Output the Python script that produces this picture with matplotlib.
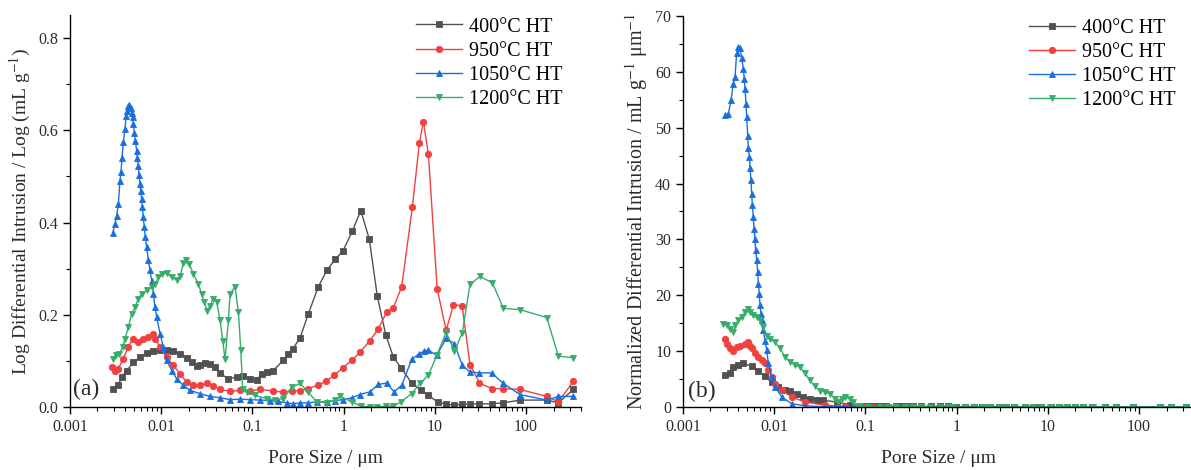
import matplotlib
matplotlib.use('Agg')
import matplotlib.pyplot as plt
from matplotlib.ticker import LogLocator, NullFormatter, MultipleLocator

plt.rcParams['font.family'] = ['Liberation Serif', 'DejaVu Serif']
plt.rcParams['mathtext.fontset'] = 'stix'

# ---------------- data ----------------
labels = ['400°C HT', '950°C HT', '1050°C HT', '1200°C HT']
colors = ['#515151', '#F14040', '#1A6FDF', '#37AD6B']
markers = ['s', 'o', '^', 'v']
msizes = [4.2, 4.6, 5.0, 5.0]

xticks = [0.001, 0.01, 0.1, 1, 10, 100]
xticklabels = ['0.001', '0.01', '0.1', '1', '10', '100']

# (a) log differential intrusion, mL/g
a400_x = [0.00299, 0.00339, 0.00369, 0.00418, 0.00495, 0.00586, 0.00693, 0.0082, 0.0097, 0.01148,
          0.01358, 0.0161, 0.019, 0.0216, 0.0245, 0.0266, 0.0302, 0.0343, 0.0389, 0.0442,
          0.0545, 0.0673, 0.0795, 0.0941, 0.111, 0.126, 0.144, 0.169, 0.218, 0.248,
          0.277, 0.333, 0.41, 0.528, 0.653, 0.805, 0.98, 1.25, 1.54, 1.91,
          2.34, 2.89, 3.51, 4.26, 5.57, 7.06, 8.5, 10.7, 13.3, 16.4,
          20.0, 24.3, 30.8, 42.0, 56.4, 85.9, 168.6, 226, 330]
a400_y = [0.040, 0.047, 0.065, 0.079, 0.097, 0.108, 0.117, 0.121, 0.124, 0.124,
          0.121, 0.116, 0.107, 0.097, 0.088, 0.090, 0.095, 0.094, 0.087, 0.074,
          0.060, 0.066, 0.068, 0.060, 0.059, 0.071, 0.076, 0.079, 0.101, 0.116,
          0.126, 0.150, 0.202, 0.261, 0.296, 0.320, 0.338, 0.382, 0.426, 0.364,
          0.240, 0.157, 0.108, 0.085, 0.052, 0.036, 0.025, 0.011, 0.006, 0.004,
          0.006, 0.006, 0.007, 0.007, 0.009, 0.015, 0.015, 0.009, 0.038]

a950_x = [0.00287, 0.00311, 0.00339, 0.00384, 0.00436, 0.00495, 0.00561, 0.00637, 0.00723, 0.00806,
          0.00855, 0.0097, 0.01148, 0.01358, 0.0161, 0.019, 0.0225, 0.0266, 0.0315, 0.0373,
          0.0442, 0.0568, 0.0731, 0.0941, 0.121, 0.169, 0.218, 0.269, 0.333, 0.41,
          0.52, 0.641, 0.791, 0.977, 1.23, 1.51, 1.95, 2.40, 2.97, 3.51,
          4.33, 5.67, 6.76, 7.48, 8.5, 10.6, 13.3, 16.0, 19.9, 24.3,
          30.8, 42.0, 56.4, 85.9, 168.6, 226, 330]
a950_y = [0.087, 0.078, 0.083, 0.105, 0.130, 0.148, 0.141, 0.148, 0.152, 0.159,
          0.148, 0.130, 0.108, 0.090, 0.072, 0.054, 0.047, 0.047, 0.052, 0.045,
          0.038, 0.034, 0.036, 0.035, 0.038, 0.035, 0.032, 0.035, 0.035, 0.040,
          0.047, 0.056, 0.069, 0.085, 0.101, 0.119, 0.144, 0.170, 0.206, 0.215,
          0.261, 0.434, 0.572, 0.619, 0.548, 0.256, 0.166, 0.222, 0.219, 0.092,
          0.052, 0.040, 0.040, 0.038, 0.023, 0.011, 0.056]

a1050_x = [0.00294, 0.00311, 0.00325, 0.00339, 0.00353, 0.00362, 0.00372, 0.00384, 0.00401, 0.00411,
           0.00418, 0.00436, 0.00447, 0.00462, 0.00474, 0.00487, 0.00495, 0.00508, 0.0052, 0.00538,
           0.00547, 0.00561, 0.00571, 0.00586, 0.00595, 0.00611, 0.00621, 0.00637, 0.00653, 0.0067,
           0.00693, 0.00723, 0.00754, 0.00787, 0.0082, 0.00855, 0.00892, 0.0097, 0.01055, 0.01148,
           0.01303, 0.01479, 0.0175, 0.0207, 0.0266, 0.0343, 0.0442, 0.0568, 0.0731, 0.0941,
           0.121, 0.156, 0.19, 0.238, 0.281, 0.333, 0.41, 0.507, 0.653, 0.805,
           0.993, 1.23, 1.51, 1.95, 2.40, 2.97, 3.57, 4.33, 5.57, 6.76,
           7.62, 8.5, 10.5, 13.3, 16.4, 20.0, 24.3, 30.8, 42.0, 56.4,
           85.9, 168.6, 226, 330]
a1050_y = [0.377, 0.397, 0.415, 0.440, 0.491, 0.509, 0.541, 0.574, 0.603, 0.631,
           0.642, 0.653, 0.655, 0.649, 0.638, 0.628, 0.613, 0.595, 0.577, 0.556,
           0.541, 0.523, 0.502, 0.484, 0.469, 0.451, 0.433, 0.411, 0.390, 0.368,
           0.346, 0.318, 0.296, 0.274, 0.245, 0.217, 0.195, 0.159, 0.130, 0.101,
           0.079, 0.061, 0.047, 0.036, 0.029, 0.023, 0.020, 0.016, 0.017, 0.016,
           0.015, 0.014, 0.012, 0.009, 0.007, 0.009, 0.009, 0.011, 0.011, 0.014,
           0.016, 0.020, 0.027, 0.033, 0.049, 0.052, 0.033, 0.047, 0.103, 0.116,
           0.121, 0.123, 0.112, 0.149, 0.137, 0.090, 0.076, 0.074, 0.074, 0.051,
           0.027, 0.015, 0.023, 0.023]

a1200_x = [0.00294, 0.00319, 0.00346, 0.00378, 0.00401, 0.00436, 0.00474, 0.00516, 0.00561, 0.00611,
           0.00693, 0.00787, 0.00855, 0.0093, 0.0101, 0.01148, 0.01303, 0.01479, 0.0161, 0.0175,
           0.0187, 0.0203, 0.0225, 0.0255, 0.0278, 0.0295, 0.0321, 0.0343, 0.0373, 0.0406,
           0.0442, 0.0472, 0.0501, 0.0545, 0.0568, 0.0645, 0.0702, 0.0745, 0.0783, 0.0866,
           0.107, 0.144, 0.177, 0.218, 0.269, 0.333, 0.41, 0.507, 0.653, 0.805,
           0.914, 1.23, 1.54, 1.95, 2.34, 2.89, 3.51, 4.26, 5.57, 6.88,
           8.5, 10.5, 13.3, 16.4, 20.0, 24.3, 31.3, 42.8, 56.4, 85.9,
           168.6, 226, 330]
a1200_y = [0.105, 0.112, 0.114, 0.130, 0.148, 0.173, 0.202, 0.216, 0.235, 0.245,
           0.253, 0.260, 0.266, 0.281, 0.289, 0.290, 0.281, 0.276, 0.283, 0.312,
           0.318, 0.310, 0.289, 0.267, 0.245, 0.227, 0.209, 0.220, 0.235, 0.227,
           0.188, 0.144, 0.103, 0.188, 0.245, 0.261, 0.206, 0.123, 0.040, 0.032,
           0.025, 0.018, 0.016, 0.018, 0.043, 0.051, 0.032, 0.011, 0.009, 0.015,
           0.023, 0.011, 0.002, 0.000, 0.000, 0.002, 0.002, 0.011, 0.029, 0.051,
           0.069, 0.112, 0.162, 0.121, 0.161, 0.266, 0.283, 0.269, 0.214, 0.211,
           0.194, 0.110, 0.107]

# (b) normalized differential intrusion, mL/g/um
b400_x = [0.00289, 0.00325, 0.00356, 0.00404, 0.00458, 0.00566, 0.0067, 0.00793, 0.00938, 0.0111,
          0.0131, 0.0149, 0.0177, 0.0209, 0.0247, 0.0292, 0.0346, 0.0484, 0.0678, 0.0949,
          0.111, 0.126, 0.144, 0.169, 0.218, 0.248, 0.277, 0.333, 0.41, 0.528,
          0.653, 0.805, 0.98, 1.25, 1.54, 1.91, 2.34, 2.89, 3.51, 4.26,
          5.57, 7.06, 8.5, 10.7, 13.3, 16.4, 20.0, 24.3, 30.8, 42.0,
          56.4, 85.9, 168.6, 226, 330]
b400_y = [5.7, 6.0, 7.2, 7.6, 7.8, 7.3, 6.5, 5.5, 4.4, 3.5,
          3.0, 2.8, 2.4, 1.8, 1.5, 1.3, 1.2, 0.9, 0.4, 0.15,
          0.12, 0.12, 0.11, 0.10, 0.10, 0.10, 0.10, 0.10, 0.11, 0.11,
          0.10, 0.09, 0.08, 0.07, 0.06, 0.04, 0.02, 0.01, 0.01, 0.01,
          0.0, 0.0, 0.0, 0.0, 0.0, 0.0, 0.0, 0.0, 0.0, 0.0,
          0.0, 0.0, 0.0, 0.0, 0.0]

b950_x = [0.00289, 0.00301, 0.00325, 0.00356, 0.00387, 0.00422, 0.00478, 0.0052, 0.00543, 0.00566,
          0.00615, 0.0067, 0.0073, 0.00793, 0.00862, 0.00938, 0.0102, 0.0121, 0.0155, 0.0218,
          0.036, 0.06, 0.0941, 0.121, 0.169, 0.218, 0.269, 0.333, 0.41, 0.52,
          0.641, 0.791, 0.977, 1.23, 1.51, 1.95, 2.40, 2.97, 3.51, 4.33,
          5.67, 6.76, 7.48, 8.5, 10.6, 13.3, 16.0, 19.9, 24.3, 30.8,
          42.0, 56.4, 85.9, 168.6, 226, 330]
b950_y = [12.2, 11.3, 10.5, 10.1, 10.7, 11.0, 11.3, 11.6, 11.0, 10.5,
          9.6, 9.0, 8.4, 7.8, 6.6, 5.4, 4.2, 3.0, 1.8, 0.9,
          0.3, 0.1, 0.08, 0.07, 0.05, 0.04, 0.03, 0.03, 0.03, 0.02,
          0.02, 0.02, 0.02, 0.02, 0.02, 0.02, 0.02, 0.02, 0.02, 0.02,
          0.03, 0.03, 0.03, 0.03, 0.01, 0.01, 0.01, 0.01, 0.0, 0.0,
          0.0, 0.0, 0.0, 0.0, 0.0, 0.0]

b1050_x = [0.00289, 0.00314, 0.00336, 0.00356, 0.00372, 0.00387, 0.00404, 0.00422, 0.0044, 0.00459,
           0.0047, 0.00478, 0.00491, 0.00499, 0.00512, 0.0052, 0.00534, 0.00543, 0.00557, 0.00566,
           0.00576, 0.0059, 0.00601, 0.00615, 0.00626, 0.00643, 0.00659, 0.0067, 0.00687, 0.00698,
           0.00716, 0.00735, 0.0076, 0.00793, 0.00827, 0.00862, 0.00938, 0.0102, 0.0121, 0.0155,
           0.0218, 0.036, 0.0568, 0.0941, 0.121, 0.156, 0.19, 0.238, 0.281, 0.333,
           0.41, 0.507, 0.653, 0.805, 0.993, 1.23, 1.51, 1.95, 2.40, 2.97,
           3.57, 4.33, 5.57, 6.76, 7.62, 8.5, 10.5, 13.3, 16.4, 20.0,
           24.3, 30.8, 42.0, 56.4, 85.9, 168.6, 226, 330]
b1050_y = [52.2, 52.5, 54.9, 57.9, 59.1, 63.3, 64.4, 64.2, 62.4, 60.6,
           58.8, 57.0, 54.3, 51.9, 48.6, 46.3, 44.8, 42.7, 40.6, 38.2,
           36.1, 34.0, 31.9, 30.1, 28.1, 26.3, 24.2, 22.1, 20.3, 18.2,
           16.7, 15.5, 13.7, 11.9, 10.2, 7.8, 5.4, 3.6, 1.8, 0.6,
           0.2, 0.05, 0.03, 0.02, 0.01, 0.01, 0.01, 0.01, 0.0, 0.0,
           0.0, 0.0, 0.0, 0.0, 0.0, 0.0, 0.0, 0.0, 0.0, 0.0,
           0.0, 0.0, 0.01, 0.01, 0.01, 0.01, 0.01, 0.01, 0.01, 0.0,
           0.0, 0.0, 0.0, 0.0, 0.0, 0.0, 0.0, 0.0]

b1200_x = [0.00277, 0.00301, 0.00325, 0.00356, 0.00372, 0.00404, 0.0044, 0.00478, 0.00512, 0.00543,
           0.0059, 0.00643, 0.00698, 0.0076, 0.00827, 0.009, 0.0102, 0.0116, 0.0131, 0.0149,
           0.0169, 0.0192, 0.0218, 0.0247, 0.028, 0.0318, 0.036, 0.0409, 0.0464, 0.0505,
           0.055, 0.0597, 0.0678, 0.0738, 0.0802, 0.0866, 0.107, 0.144, 0.177, 0.218,
           0.269, 0.333, 0.41, 0.507, 0.653, 0.805, 0.914, 1.23, 1.54, 1.95,
           2.34, 2.89, 3.51, 4.26, 5.57, 6.88, 8.5, 10.5, 13.3, 16.4,
           20.0, 24.3, 31.3, 42.8, 56.4, 85.9, 168.6, 226, 330]
b1200_y = [14.9, 14.6, 14.0, 13.4, 14.6, 15.5, 16.1, 17.0, 17.6, 17.0,
           16.4, 16.1, 15.5, 14.3, 12.8, 12.2, 11.6, 10.5, 9.0, 8.1,
           7.5, 7.2, 6.0, 4.8, 3.7, 2.9, 2.7, 2.4, 1.5, 0.9,
           1.5, 1.8, 1.5, 0.9, 0.1, 0.1, 0.08, 0.05, 0.04, 0.04,
           0.07, 0.07, 0.04, 0.01, 0.01, 0.01, 0.01, 0.0, 0.0, 0.0,
           0.0, 0.0, 0.0, 0.0, 0.0, 0.01, 0.01, 0.01, 0.01, 0.01,
           0.01, 0.01, 0.01, 0.0, 0.0, 0.0, 0.0, 0.0, 0.0]

series_a = [(a400_x, a400_y), (a950_x, a950_y), (a1050_x, a1050_y), (a1200_x, a1200_y)]
series_b = [(b400_x, b400_y), (b950_x, b950_y), (b1050_x, b1050_y), (b1200_x, b1200_y)]

# ---------------- plot ----------------
fig = plt.figure(figsize=(11.91, 4.70), dpi=100)
W, H = 1191.0, 470.0
ax1 = fig.add_axes([70 / W, (H - 407) / H, 511 / W, 392 / H])
ax2 = fig.add_axes([683 / W, (H - 407) / H, 511 / W, 391 / H])

text_color = '#2b2b2b'

for ax, series in [(ax1, series_a), (ax2, series_b)]:
    for (x, y), lab, c, m, ms in zip(series, labels, colors, markers, msizes):
        ax.plot(x, y, color=c, marker=m, markersize=ms, linewidth=1.0, label=lab,
                markeredgewidth=0.6)
    ax.set_xscale('log')
    ax.set_xlim(0.001, 400)
    ax.set_xticks(xticks)
    ax.set_xticklabels(xticklabels)
    ax.xaxis.set_minor_locator(LogLocator(base=10, subs=range(2, 10), numticks=20))
    ax.xaxis.set_minor_formatter(NullFormatter())
    for s in ['top', 'right']:
        ax.spines[s].set_visible(False)
    for s in ['left', 'bottom']:
        ax.spines[s].set_linewidth(1.0)
    ax.tick_params(which='major', direction='out', length=5, width=1.0,
                   labelsize=11.5, colors='black', labelcolor=text_color)
    ax.tick_params(which='minor', direction='out', length=3, width=0.8)
    ax.set_xlabel('Pore Size / μm', fontsize=14, color=text_color, labelpad=11)
    ax.legend(loc='upper right', bbox_to_anchor=(1.0, 1.04), frameon=False, fontsize=14.5,
              handlelength=2.3, handletextpad=0.35, labelspacing=0.25)

ax1.set_ylim(0, 0.85)
ax1.yaxis.set_major_locator(MultipleLocator(0.2))
ax1.yaxis.set_minor_locator(MultipleLocator(0.1))
ax1.set_ylabel('Log Differential Intrusion / Log (mL g$^{-1}$)', fontsize=14, color=text_color)
ax1.text(0.005, 0.03, '(a)', transform=ax1.transAxes, fontsize=17, color=text_color)

ax2.set_xlim(0.001, 400)
ax2.set_ylim(0, 70)
ax2.yaxis.set_major_locator(MultipleLocator(10))
ax2.yaxis.set_minor_locator(MultipleLocator(5))
ax2.set_ylabel('Normalized Differential Intrusion / mL g$^{-1}$ μm$^{-1}$', fontsize=14.5,
               color=text_color)
ax2.text(0.01, 0.025, '(b)', transform=ax2.transAxes, fontsize=17, color=text_color)

fig.savefig('out.png', dpi=100)
